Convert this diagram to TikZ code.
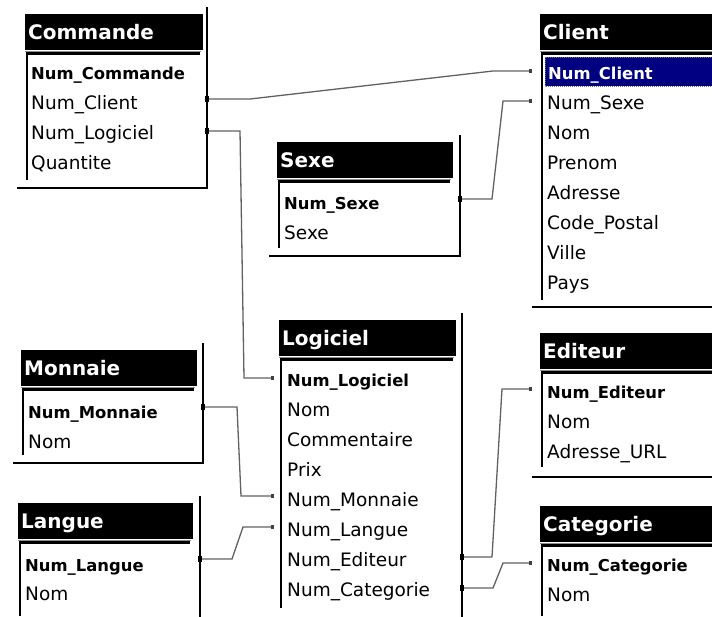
\documentclass[tikz,border=0pt]{standalone}
\usepackage{fontspec}
\setmainfont{DejaVu Sans}
\definecolor{selnavy}{RGB}{0,0,128}
\begin{document}
\begin{tikzpicture}[x=1pt,y=-1pt,
  ttext/.style={anchor=base west,inner sep=0pt,text=white,font=\bfseries\fontsize{20}{22}\selectfont},
  item/.style={anchor=base west,inner sep=0pt,font=\fontsize{18.5}{22}\selectfont},
  key/.style={anchor=base west,inner sep=0pt,font=\bfseries\fontsize{16.4}{22}\selectfont},
  border/.style={line width=2.2pt,black},
  link/.style={line width=1.3pt,black!62},
  srcmark/.style={fill=black,minimum width=4pt,minimum height=6pt,inner sep=0pt},
  dstmark/.style={fill=black!75,minimum width=3pt,minimum height=4pt,inner sep=0pt}
]
\useasboundingbox (0,0) rectangle (712,616);
\fill[white] (0,0) rectangle (712,616);

% #1 name, #2 title left, #3 title top, #4 title right, #5 right line x, #6 bottom line y, #7 left line end, #8 title
\newcommand\erframe[8]{%
  \fill[black] ({#2},{#3}) rectangle ({#4},{#3+36});
  \node[ttext] (#1) at ({#2+3},{#3+25}) {#8};
  \draw[border] ({#5},{#3-7}) -- ({#5},{#6+1});
  \draw[border] ({#2-8},{#6}) -- ({#5},{#6});
  \draw[black!45,line width=1pt] ({#2},{#3+37}) -- ({#4-2},{#3+37});
  \draw[border] ({#2+1},{#3+39.5}) -- ({#4-3},{#3+39.5});
  \draw[border] ({#2+2},{#3+39}) -- ({#2+2},{#7});
}

% Commande
\erframe{commande}{25}{14}{203}{207}{188}{180}{Commande}
\node[key]  (cmd1) at (31,79.5)  {Num\_Commande};
\node[item] (cmd2) at (31,109.5) {Num\_Client};
\node[item] (cmd3) at (31,139.5) {Num\_Logiciel};
\node[item] (cmd4) at (31,169.5) {Quantite};

% Client
\erframe{client}{540}{14}{716}{800}{307}{300}{Client}
\fill[selnavy] (545,57) rectangle (714,86);
\draw[black!55,densely dotted,line width=1pt] (545,57) rectangle (714,86);
\node[key,text=white] (cli1) at (548,79.5) {Num\_Client};
\node[item] (cli2) at (547,109.5) {Num\_Sexe};
\node[item] (cli3) at (547,139.5) {Nom};
\node[item] (cli4) at (547,169.5) {Prenom};
\node[item] (cli5) at (547,199.5) {Adresse};
\node[item] (cli6) at (547,229.5) {Code\_Postal};
\node[item] (cli7) at (547,259.5) {Ville};
\node[item] (cli8) at (547,289.5) {Pays};

% Sexe
\erframe{sexe}{277}{142}{453}{460}{256}{248}{Sexe}
\node[key]  (sex1) at (284,209.5) {Num\_Sexe};
\node[item] (sex2) at (284,239.5) {Sexe};

% Logiciel
\erframe{logiciel}{279}{320}{456}{462}{700}{608}{Logiciel}
\node[key]  (log1) at (287,386.5) {Num\_Logiciel};
\node[item] (log2) at (287,416.5) {Nom};
\node[item] (log3) at (287,446.5) {Commentaire};
\node[item] (log4) at (287,476.5) {Prix};
\node[item] (log5) at (287,506.5) {Num\_Monnaie};
\node[item] (log6) at (287,536.5) {Num\_Langue};
\node[item] (log7) at (287,566.5) {Num\_Editeur};
\node[item] (log8) at (287,596.5) {Num\_Categorie};

% Monnaie
\erframe{monnaie}{21}{350}{197}{203}{463}{455}{Monnaie}
\node[key]  (mon1) at (28,418.5) {Num\_Monnaie};
\node[item] (mon2) at (28,448.5) {Nom};

% Langue
\erframe{langue}{18}{503}{193}{200}{700}{616}{Langue}
\node[key]  (lan1) at (25,571.5) {Num\_Langue};
\node[item] (lan2) at (25,600.5) {Nom};

% Editeur
\erframe{editeur}{540}{333}{716}{800}{477}{467}{Editeur}
\node[key]  (edi1) at (547,398) {Num\_Editeur};
\node[item] (edi2) at (547,428.5) {Nom};
\node[item] (edi3) at (547,458.5) {Adresse\_URL};

% Categorie
\erframe{categorie}{540}{506}{716}{800}{700}{616}{Categorie}
\node[key]  (cat1) at (547,571.5) {Num\_Categorie};
\node[item] (cat2) at (547,601.5) {Nom};

% connection points
\coordinate (cmdA) at (207,99);
\coordinate (cmdB) at (207,131);
\coordinate (cliA) at (530,71);
\coordinate (cliB) at (530,101);
\coordinate (sexA) at (460,199);
\coordinate (logA) at (272,378);
\coordinate (logB) at (272,496);
\coordinate (logC) at (272,527);
\coordinate (logD) at (462,557);
\coordinate (logE) at (462,588);
\coordinate (monA) at (203,407);
\coordinate (lanA) at (200,559);
\coordinate (ediA) at (530,389);
\coordinate (catA) at (530,563);

% connectors
\draw[link] (cmdA) -- (250,99) -- (493,71) -- (cliA);
\draw[link] (sexA) -- (492,199) -- (503,101) -- (cliB);
\draw[link] (cmdB) -- (240,131) -- (244,378) -- (logA);
\draw[link] (monA) -- (237,407) -- (241,496) -- (logB);
\draw[link] (lanA) -- (232,559) -- (243,527) -- (logC);
\draw[link] (logD) -- (492,557) -- (502,389) -- (ediA);
\draw[link] (logE) -- (493,588) -- (503,563) -- (catA);

% end marks
\node[srcmark] (s1) at (cmdA) {};
\node[srcmark] (s2) at (cmdB) {};
\node[srcmark] (s3) at (sexA) {};
\node[srcmark] (s4) at (monA) {};
\node[srcmark] (s5) at (lanA) {};
\node[srcmark] (s6) at (logD) {};
\node[srcmark] (s7) at (logE) {};
\node[dstmark] (d1) at (cliA) {};
\node[dstmark] (d2) at (cliB) {};
\node[dstmark] (d3) at (logA) {};
\node[dstmark] (d4) at (logB) {};
\node[dstmark] (d5) at (logC) {};
\node[dstmark] (d6) at (ediA) {};
\node[dstmark] (d7) at (catA) {};
\end{tikzpicture}
\end{document}
